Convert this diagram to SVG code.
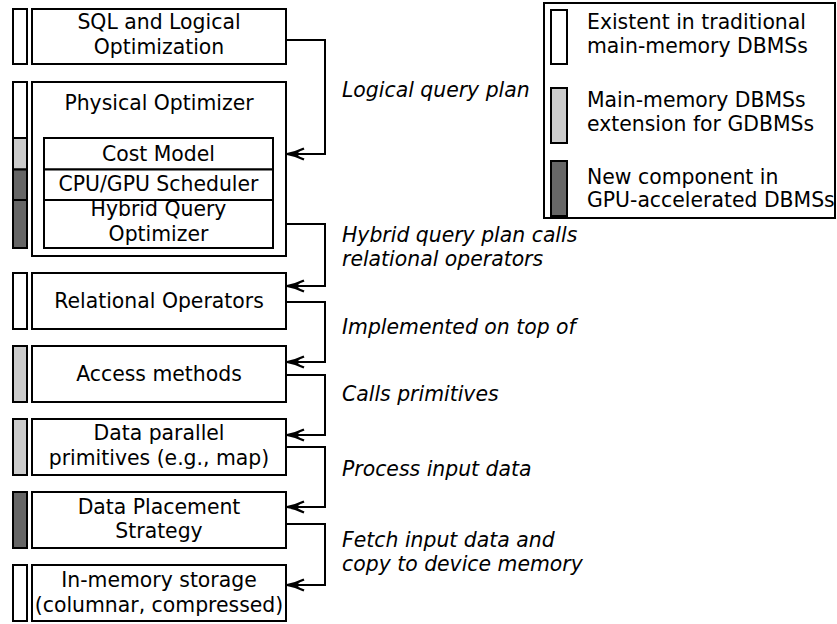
<svg xmlns="http://www.w3.org/2000/svg" width="837" height="624" viewBox="0 0 837 624">
<style>
  .box{fill:#fff;stroke:#000;stroke-width:2}
  .w{fill:#fff;stroke:#000;stroke-width:2}
  .l{fill:#cccccc;stroke:#000;stroke-width:2}
  .d{fill:#666666;stroke:#000;stroke-width:2}
  text{font-family:"DejaVu Sans",sans-serif;font-size:20.4px;fill:#000}
  .c{text-anchor:middle}
  .it{font-style:italic}
  .con{fill:none;stroke:#000;stroke-width:2;marker-end:url(#arr)}
</style>
<defs>
  <marker id="arr" markerUnits="userSpaceOnUse" markerWidth="22" markerHeight="14" viewBox="-19 -7 22 14" refX="0" refY="0" orient="auto">
    <path d="M-17,-5.5 Q-8,-1.2 0,0 Q-8,1.2 -17,5.5" fill="none" stroke="#000" stroke-width="2.2"/>
    <path d="M-13,-3 L0,0 L-13,3 L-10,0 Z" fill="#000"/>
  </marker>
</defs>
<rect width="837" height="624" fill="#fff"/>

<g id="sql">
  <rect class="w" x="13" y="9" width="14" height="55"/>
  <rect class="box" x="32" y="9" width="254" height="55"/>
  <text class="c" x="159" y="29">SQL and Logical</text>
  <text class="c" x="159" y="54">Optimization</text>
</g>

<g id="physical">
  <rect class="w" x="13" y="82" width="14" height="56"/>
  <rect class="l" x="13" y="138" width="14" height="31.5"/>
  <rect class="d" x="13" y="169.5" width="14" height="30.5"/>
  <rect class="d" x="13" y="200" width="14" height="48"/>
  <rect class="box" x="32" y="82" width="254" height="174"/>
  <text class="c" x="159" y="110">Physical Optimizer</text>
  <g id="cost">
    <rect class="box" x="44" y="138" width="229" height="31.5"/>
    <text class="c" x="158.5" y="161">Cost Model</text>
  </g>
  <g id="sched">
    <rect class="box" x="44" y="169.5" width="229" height="30.5"/>
    <text class="c" x="158.5" y="191">CPU/GPU Scheduler</text>
  </g>
  <g id="hybrid">
    <rect class="box" x="44" y="200" width="229" height="48"/>
    <text class="c" x="158.5" y="216">Hybrid Query</text>
    <text class="c" x="158.5" y="241">Optimizer</text>
  </g>
</g>

<g id="relational">
  <rect class="w" x="13" y="273" width="14" height="56"/>
  <rect class="box" x="32" y="273" width="254" height="56"/>
  <text class="c" x="159" y="308">Relational Operators</text>
</g>

<g id="access">
  <rect class="l" x="13" y="346" width="14" height="56"/>
  <rect class="box" x="32" y="346" width="254" height="56"/>
  <text class="c" x="159" y="381">Access methods</text>
</g>

<g id="primitives">
  <rect class="l" x="13" y="419" width="14" height="56"/>
  <rect class="box" x="32" y="419" width="254" height="56"/>
  <text class="c" x="159" y="440">Data parallel</text>
  <text class="c" x="159" y="465">primitives (e.g., map)</text>
</g>

<g id="placement">
  <rect class="d" x="13" y="492" width="14" height="56"/>
  <rect class="box" x="32" y="492" width="254" height="56"/>
  <text class="c" x="159" y="514">Data Placement</text>
  <text class="c" x="159" y="538">Strategy</text>
</g>

<g id="storage">
  <rect class="w" x="13" y="565" width="14" height="56"/>
  <rect class="box" x="32" y="565" width="254" height="56"/>
  <text class="c" x="159" y="587">In-memory storage</text>
  <text class="c" x="159" y="612">(columnar, compressed)</text>
</g>

<g id="connectors">
  <path class="con" d="M286,40 H325 V154 H287"/>
  <path class="con" d="M286,224 H325 V286 H287"/>
  <path class="con" d="M286,302 H325 V362 H287"/>
  <path class="con" d="M286,375 H325 V435 H287"/>
  <path class="con" d="M286,447 H325 V507 H287"/>
  <path class="con" d="M286,524 H325 V585 H287"/>
  <text class="it" x="342" y="97">Logical query plan</text>
  <text class="it" x="342" y="242">Hybrid query plan calls</text>
  <text class="it" x="342" y="266">relational operators</text>
  <text class="it" x="342" y="334">Implemented on top of</text>
  <text class="it" x="342" y="401">Calls primitives</text>
  <text class="it" x="342" y="476">Process input data</text>
  <text class="it" x="342" y="547">Fetch input data and</text>
  <text class="it" x="342" y="571">copy to device memory</text>
</g>

<g id="legend">
  <rect class="box" x="544" y="3" width="291" height="215"/>
  <rect class="w" x="551" y="10" width="16" height="54"/>
  <text x="587" y="29">Existent in traditional</text>
  <text x="587" y="53">main-memory DBMSs</text>
  <rect class="l" x="551" y="88" width="16" height="55"/>
  <text x="587" y="107">Main-memory DBMSs</text>
  <text x="587" y="131">extension for GDBMSs</text>
  <rect class="d" x="551" y="161" width="16" height="55"/>
  <text x="587" y="184">New component in</text>
  <text x="587" y="207">GPU-accelerated DBMSs</text>
</g>
</svg>
